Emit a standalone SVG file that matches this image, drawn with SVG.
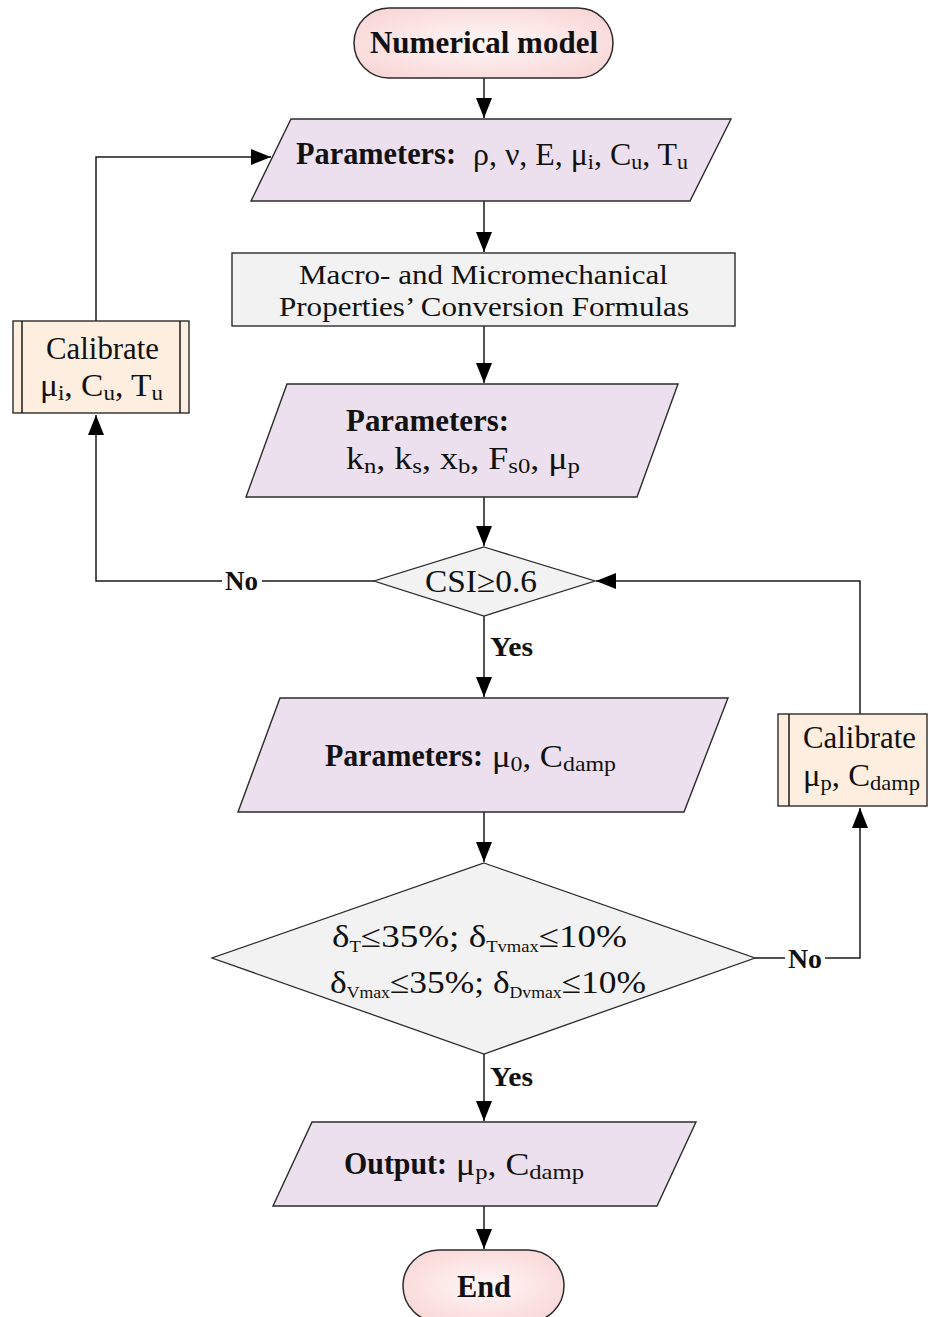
<svg xmlns="http://www.w3.org/2000/svg" width="928" height="1317" viewBox="0 0 928 1317">
<defs>
<radialGradient id="gPink" cx="50%" cy="50%" r="60%">
<stop offset="0" stop-color="#fff7f7"/>
<stop offset="1" stop-color="#f9d7d7"/>
</radialGradient>
<marker id="arr" markerUnits="userSpaceOnUse" markerWidth="20" markerHeight="16" refX="20" refY="8" orient="auto">
<path d="M0,0 L20,8 L0,16 z" fill="#000"/>
</marker>
<style>
.term{fill:url(#gPink);stroke:#2b2b2b;stroke-width:1.5}
.para{fill:#ede0ee;stroke:#2b2b2b;stroke-width:1.4}
.proc{fill:#f2f2f2;stroke:#2b2b2b;stroke-width:1.4}
.dia{fill:#f2f2f2;stroke:#2b2b2b;stroke-width:1.3}
.cal{fill:#fdeee0;stroke:#2b2b2b;stroke-width:1.4}
.conn{fill:none;stroke:#1a1a1a;stroke-width:1.5}
text{font-family:"Liberation Serif","Times New Roman",serif;fill:#111;font-size:32px}
.b{font-weight:bold;font-size:31px}
.lab{font-weight:bold;font-size:27px}
.sub{font-size:22px}
.ss{font-size:16px}
.m{font-size:28px}
</style>
</defs>

<g id="connectors">
<line class="conn" x1="484" y1="78" x2="484" y2="118" marker-end="url(#arr)"/>
<line class="conn" x1="484" y1="201" x2="484" y2="252" marker-end="url(#arr)"/>
<line class="conn" x1="484" y1="326" x2="484" y2="383" marker-end="url(#arr)"/>
<line class="conn" x1="484" y1="497" x2="484" y2="546" marker-end="url(#arr)"/>
<line class="conn" x1="484" y1="616" x2="484" y2="697" marker-end="url(#arr)"/>
<line class="conn" x1="484" y1="812" x2="484" y2="862" marker-end="url(#arr)"/>
<line class="conn" x1="484" y1="1054" x2="484" y2="1121" marker-end="url(#arr)"/>
<line class="conn" x1="484" y1="1206" x2="484" y2="1249" marker-end="url(#arr)"/>
<polyline class="conn" points="374,581 96,581 96,415" marker-end="url(#arr)"/>
<polyline class="conn" points="96,321 96,157 271,157" marker-end="url(#arr)"/>
<polyline class="conn" points="755,958 860,958 860,808" marker-end="url(#arr)"/>
<polyline class="conn" points="860,714 860,581 596,581" marker-end="url(#arr)"/>
<rect x="222" y="568" width="40" height="28" fill="#fff"/>
<text class="lab" x="225" y="590" textLength="33" lengthAdjust="spacingAndGlyphs">No</text>
<text class="lab" x="490" y="656" textLength="43" lengthAdjust="spacingAndGlyphs">Yes</text>
<rect x="785" y="944" width="40" height="28" fill="#fff"/>
<text class="lab" x="788" y="968" textLength="34" lengthAdjust="spacingAndGlyphs">No</text>
<text class="lab" x="490" y="1086" textLength="43" lengthAdjust="spacingAndGlyphs">Yes</text>
</g>

<g id="start">
<rect class="term" x="354" y="8" width="259" height="70" rx="35" ry="35"/>
<text class="b" x="370" y="53" textLength="228" lengthAdjust="spacingAndGlyphs">Numerical model</text>
</g>

<g id="params1">
<polygon class="para" points="291,119 731,119 690,201 251,201"/>
<text class="b" x="296" y="164" textLength="160" lengthAdjust="spacingAndGlyphs">Parameters:</text>
<text x="473" y="165" textLength="215" lengthAdjust="spacingAndGlyphs">ρ, ν, E, μ<tspan class="sub" dy="4">i</tspan><tspan dy="-4">, C</tspan><tspan class="sub" dy="4">u</tspan><tspan dy="-4">, T</tspan><tspan class="sub" dy="4">u</tspan></text>
</g>

<g id="conversion">
<rect class="proc" x="232" y="253" width="503" height="73"/>
<text class="m" x="299" y="284" textLength="369" lengthAdjust="spacingAndGlyphs">Macro- and Micromechanical</text>
<text class="m" x="279" y="316" textLength="410" lengthAdjust="spacingAndGlyphs">Properties’ Conversion Formulas</text>
</g>

<g id="params2">
<polygon class="para" points="287,384 678,384 637,497 246,497"/>
<text class="b" x="346" y="431" textLength="163" lengthAdjust="spacingAndGlyphs">Parameters:</text>
<text x="346" y="469" textLength="234" lengthAdjust="spacingAndGlyphs">k<tspan class="sub" dy="4">n</tspan><tspan dy="-4">,  k</tspan><tspan class="sub" dy="4">s</tspan><tspan dy="-4">, x</tspan><tspan class="sub" dy="4">b</tspan><tspan dy="-4">,  F</tspan><tspan class="sub" dy="4">s0</tspan><tspan dy="-4">,  μ</tspan><tspan class="sub" dy="4">p</tspan></text>
</g>

<g id="csi">
<polygon class="dia" points="484,547 595,581 484,616 374,581"/>
<text x="425" y="592" textLength="112" lengthAdjust="spacingAndGlyphs">CSI≥0.6</text>
</g>

<g id="params3">
<polygon class="para" points="280,698 728,698 684,812 238,812"/>
<text class="b" x="325" y="766" textLength="158" lengthAdjust="spacingAndGlyphs">Parameters:</text>
<text x="492" y="767" textLength="124" lengthAdjust="spacingAndGlyphs">μ<tspan class="sub" dy="4">0</tspan><tspan dy="-4">, C</tspan><tspan class="sub" dy="4">damp</tspan></text>
</g>

<g id="criteria">
<polygon class="dia" points="484,863 755,958 484,1054 212,958"/>
<text x="332" y="947" textLength="295" lengthAdjust="spacingAndGlyphs">δ<tspan class="ss" dy="5">T</tspan><tspan dy="-5">≤35%;  δ</tspan><tspan class="ss" dy="5">Tvmax</tspan><tspan dy="-5">≤10%</tspan></text>
<text x="330" y="993" textLength="316" lengthAdjust="spacingAndGlyphs">δ<tspan class="ss" dy="5">Vmax</tspan><tspan dy="-5">≤35%; δ</tspan><tspan class="ss" dy="5">Dvmax</tspan><tspan dy="-5">≤10%</tspan></text>
</g>

<g id="output">
<polygon class="para" points="312,1122 696,1122 657,1206 273,1206"/>
<text class="b" x="344" y="1174" textLength="103" lengthAdjust="spacingAndGlyphs">Output:</text>
<text x="456" y="1175" textLength="128" lengthAdjust="spacingAndGlyphs">μ<tspan class="sub" dy="4">p</tspan><tspan dy="-4">,  C</tspan><tspan class="sub" dy="4">damp</tspan></text>
</g>

<g id="end">
<rect class="term" x="403" y="1250" width="161" height="72" rx="36" ry="36"/>
<text class="b" x="457" y="1297" textLength="54" lengthAdjust="spacingAndGlyphs">End</text>
</g>

<g id="calibrate-left">
<rect class="cal" x="13" y="321" width="176" height="92"/>
<line class="conn" x1="22" y1="321" x2="22" y2="413"/>
<line class="conn" x1="180" y1="321" x2="180" y2="413"/>
<text x="46" y="359" textLength="113" lengthAdjust="spacingAndGlyphs">Calibrate</text>
<text x="40" y="396" textLength="123" lengthAdjust="spacingAndGlyphs">μ<tspan class="sub" dy="4">i</tspan><tspan dy="-4">, C</tspan><tspan class="sub" dy="4">u</tspan><tspan dy="-4">, T</tspan><tspan class="sub" dy="4">u</tspan></text>
</g>

<g id="calibrate-right">
<rect class="cal" x="778" y="714" width="149" height="92"/>
<line class="conn" x1="789" y1="714" x2="789" y2="806"/>
<text x="803" y="748" textLength="113" lengthAdjust="spacingAndGlyphs">Calibrate</text>
<text x="803" y="786" textLength="117" lengthAdjust="spacingAndGlyphs">μ<tspan class="sub" dy="4">p</tspan><tspan dy="-4">, C</tspan><tspan class="sub" dy="4">damp</tspan></text>
</g>
</svg>
